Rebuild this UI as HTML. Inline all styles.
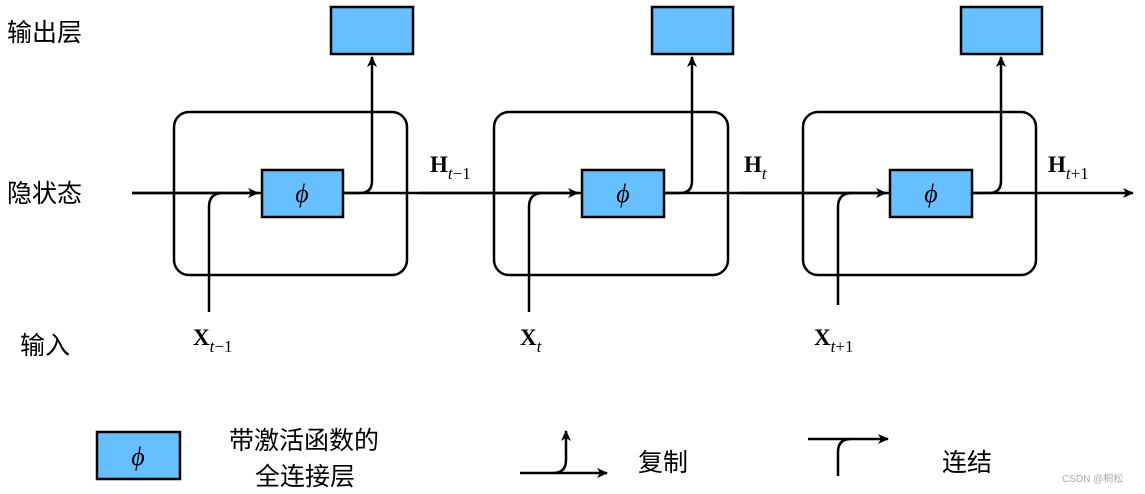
<!DOCTYPE html>
<html><head><meta charset="utf-8"><style>
html,body{margin:0;padding:0;background:#fff;}
svg{display:block;}
.cn{font-family:"Liberation Sans","Noto Sans CJK SC",sans-serif;font-size:25px;fill:#000;}
.m{font-family:"Liberation Serif",serif;}
</style></head><body>
<svg width="1145" height="494" viewBox="0 0 1145 494" xmlns="http://www.w3.org/2000/svg">
<defs>
<marker id="a" markerWidth="12" markerHeight="10" refX="10" refY="5" orient="auto" markerUnits="userSpaceOnUse">
<path d="M0,0 L11,5 L0,10 L3,5 Z" fill="#000"/>
</marker>
</defs>
<g fill="none" stroke="#000" stroke-width="2.5">
<path d="M132,193 L1133,193" marker-end="url(#a)"/>
<path d="M132,193 L258,193" marker-end="url(#a)"/>
<path d="M420,193 L578,193" marker-end="url(#a)"/>
<path d="M740,193 L886,193" marker-end="url(#a)"/>
<rect x="174" y="112" width="233" height="163" rx="15"/>
<rect x="494" y="112" width="234" height="163" rx="15"/>
<rect x="803" y="112" width="233" height="163" rx="15"/>
<path d="M209,312 L209,207 Q209,193 223,193"/>
<path d="M529,312 L529,207 Q529,193 543,193"/>
<path d="M838,305 L838,207 Q838,193 852,193"/>
<path d="M343,193 L360,193 Q372,193 372,181 L372,57" marker-end="url(#a)"/>
<path d="M664,193 L680,193 Q692,193 692,181 L692,57" marker-end="url(#a)"/>
<path d="M972,193 L989,193 Q1001,193 1001,181 L1001,57" marker-end="url(#a)"/>
<path d="M520,473 L607,473" marker-end="url(#a)"/>
<path d="M553,473 Q566,473 566,460 L566,431" marker-end="url(#a)"/>
<path d="M808,439 L888,439" marker-end="url(#a)"/>
<path d="M838,476 L838,452 Q838,439 851,439"/>
</g>
<g fill="#66bfff" stroke="#000" stroke-width="2.5">
<rect x="262" y="170" width="81" height="47"/>
<rect x="582" y="170" width="82" height="47"/>
<rect x="890" y="170" width="82" height="47"/>
<rect x="331" y="7" width="82" height="47"/>
<rect x="652" y="7" width="81" height="47"/>
<rect x="961" y="7" width="81" height="47"/>
<rect x="97" y="432" width="83" height="47"/>
</g>
<g class="m" font-size="26" font-style="italic" text-anchor="middle">
<text x="302" y="202">ϕ</text>
<text x="623" y="202">ϕ</text>
<text x="931" y="202">ϕ</text>
<text x="138" y="465">ϕ</text>
</g>
<g class="m" font-size="23" font-weight="bold">
<text x="430" y="172">H<tspan font-size="17" font-weight="normal" font-style="italic" dy="7">t</tspan><tspan font-size="17" font-weight="normal">−1</tspan></text>
<text x="744" y="172">H<tspan font-size="17" font-weight="normal" font-style="italic" dy="7">t</tspan></text>
<text x="1048" y="172">H<tspan font-size="17" font-weight="normal" font-style="italic" dy="7">t</tspan><tspan font-size="17" font-weight="normal">+1</tspan></text>
<text x="193" y="345">X<tspan font-size="17" font-weight="normal" font-style="italic" dy="7">t</tspan><tspan font-size="17" font-weight="normal">−1</tspan></text>
<text x="520" y="345">X<tspan font-size="17" font-weight="normal" font-style="italic" dy="7">t</tspan></text>
<text x="814" y="345">X<tspan font-size="17" font-weight="normal" font-style="italic" dy="7">t</tspan><tspan font-size="17" font-weight="normal">+1</tspan></text>
</g>
<text class="cn" x="7" y="41">输出层</text>
<text class="cn" x="7" y="202">隐状态</text>
<text class="cn" x="20" y="354">输入</text>
<text class="cn" x="229" y="449">带激活函数的</text>
<text class="cn" x="255" y="485">全连接层</text>
<text class="cn" x="638" y="471">复制</text>
<text class="cn" x="942" y="471">连结</text>
<text x="1062" y="482" font-family="Liberation Sans,'Noto Sans CJK SC',sans-serif" font-size="10" fill="#aaa">CSDN @桐松</text>
</svg>
</body></html>
